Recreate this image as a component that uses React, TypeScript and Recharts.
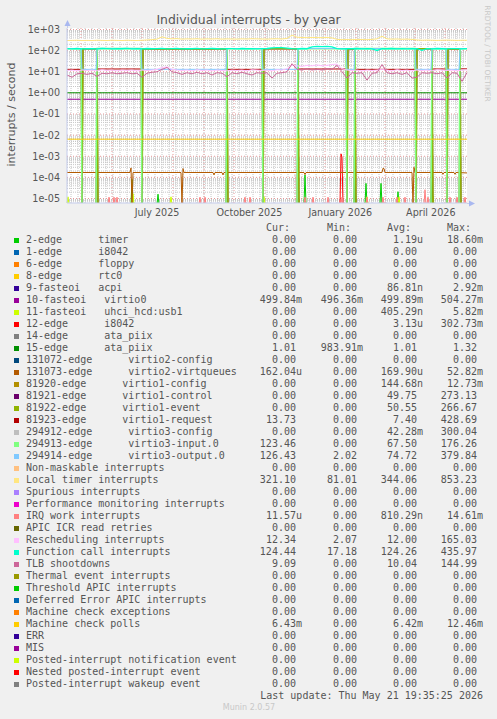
import React from "react";
import { LineChart, Line, XAxis, YAxis, CartesianGrid } from "recharts";

const W = 497;
const H = 719;

// log axis: a bit under 1e-05 up to a bit over 1e+03
const YMIN = Math.pow(10, -5.213);
const YMAX = Math.pow(10, 3.071);
// rrdtool draws a zero rate just under the floor of a log graph
const ZERO = Math.pow(10, -5.27);

const yTicks = [1e-5, 1e-4, 1e-3, 1e-2, 1e-1, 1, 10, 100, 1000];
const xLabelDays = [90, 182.5, 273.3, 363.8];
const xLabels = ["July 2025", "October 2025", "January 2026", "April 2026"];
const monthDays = [14, 45, 75, 106, 137, 167, 198, 228, 258, 289, 318, 348, 378];

// 5-day samples over the 400 day window
const days = [
  0, 5, 10, 15, 20, 25, 30, 35, 40, 45, 50, 55, 60, 65, 70, 75, 80, 85, 90, 95,
  100, 105, 110, 115, 120, 125, 130, 135, 140, 145, 150, 155, 160, 165, 170, 175, 180, 185, 190, 195,
  200, 205, 210, 215, 220, 225, 230, 235, 240, 245, 250, 255, 260, 265, 270, 275, 280, 285, 290, 295,
  300, 305, 310, 315, 320, 325, 330, 335, 340, 345, 350, 355, 360, 365, 370, 375, 380, 385, 390, 395,
  400,
];
const localTimer = [
  300, 305, 310, 300, 305, 300, 310, 305, 300, 310,
  305, 300, 310, 305, 300, 310, 320, 330, 350, 450,
  380, 360, 370, 350, 360, 355, 365, 350, 360, 355,
  365, 350, 360, 355, 350, 360, 355, 365, 360, 355,
  350, 360, 365, 355, 380, 540, 430, 420, 410, 420,
  415, 410, 420, 400, 340, 330, 335, 330, 340, 335,
  330, 340, 360, 480, 360, 350, 355, 345, 350, 340,
  320, 310, 315, 310, 305, 310, 315, 310, 305, 310,
  310,
];
const funcCall = [
  124, 122, 126, 120, 125, 123, 121, 126, 124, 122,
  125, 123, 127, 121, 124, 122, 126, 123, 125, 128,
  122, 124, 126, 121, 125, 123, 127, 122, 124, 126,
  123, 121, 125, 124, 122, 126, 123, 125, 121, 124,
  126, 135, 140, 138, 132, 124, 122, 126, 123, 150,
  158, 155, 160, 152, 124, 122, 125, 123, 126, 121,
  124, 122, 102, 125, 123, 126, 122, 124, 121, 125,
  123, 104, 125, 122, 126, 123, 121, 125, 124, 122,
  124,
];
const tlb = [
  7, 5.5, 8, 8.5, 7.5, 8.5, 6, 8.5, 8, 9,
  8, 8.5, 9, 8, 8.5, 5.5, 8.5, 9.5, 10, 13,
  16, 10, 9, 7.5, 9, 8, 9.5, 8, 9, 7,
  9, 8.5, 5.8, 9, 8, 9.5, 8, 7, 9, 8.5,
  9, 5, 8.5, 9, 10, 24, 13, 12, 14, 12,
  13, 12, 14, 13, 20, 10, 5, 9, 8.5, 9,
  4, 8.5, 9, 22, 9, 8, 9, 7.5, 9, 5,
  5.5, 9, 8.5, 9, 8, 9, 5, 9, 8.5, 3.5,
  9,
];
const resched = [
  11.5, 12, 11, 12, 11.5, 12, 11, 12.5, 11.5, 12,
  11, 12, 11.5, 12, 11, 12, 11.5, 12, 13, 16,
  17, 13, 12, 11.5, 12, 11, 12.5, 11.5, 12, 11,
  12, 11.5, 11, 12, 11.5, 12, 11, 12.5, 12, 11.5,
  12, 11, 12.5, 12, 14, 20, 19, 18, 20, 19,
  21, 19, 20, 22, 23, 14, 12, 11.5, 12, 11,
  12, 11.5, 12, 13, 12, 11, 12.5, 11.5, 12, 11,
  12, 11.5, 12, 11, 12.5, 12, 11.5, 12, 11, 12,
  12.3,
];

// the virtio devices flip behaviour at each restart of the guest
const segStart = [0, 15, 30, 75, 160, 196, 231, 280, 288, 349, 365, 380, 393];
const outputSeg = [126, 13, 127, 13, 126, 13, 125, 13, 126, 13, 127, 13, 126];
const inputSeg = [123, 0, 124, 0, 123, 0, 122, 0, 124, 0, 123, 0, 123];
const eventSeg = [0, 122, 0, 121, 0, 122, 0, 121, 0, 122, 0, 121, 0];
const controlSeg = [0, 120, 0, 119, 0, 120, 0, 119, 0, 120, 0, 119, 0];
const requestSeg = [13, 0, 13.5, 0, 13, 0, 13.5, 0, 13, 0, 13.5, 0, 13.7];

// virtio2-virtqueues: flat with a few blips
const vq2Days = [0, 63, 64, 65, 66, 114, 115, 116, 117, 146, 147, 148, 155, 156, 157, 237, 238, 239,
  315, 316, 317, 318, 345, 346, 347, 348, 375, 376, 377, 387, 388, 389, 400];
const vq2Vals = [1.7e-4, 1.7e-4, 2.8e-4, 0, 1.7e-4, 1.7e-4, 0, 2.6e-4, 1.7e-4, 1.7e-4, 1.3e-4, 1.7e-4,
  1.7e-4, 1.3e-4, 1.7e-4, 1.7e-4, 1.35e-4, 1.7e-4, 1.7e-4, 2.7e-4, 2.6e-4, 1.7e-4, 1.7e-4, 0, 3e-4,
  1.7e-4, 1.7e-4, 1.4e-4, 1.7e-4, 1.7e-4, 1.4e-4, 1.7e-4, 1.62e-4];

// rare interrupts: spikes off an otherwise zero rate
const timerSpikeDays = [65, 91, 238, 288, 299, 314, 331, 365];
const timerSpikeVals = [8e-5, 1.6e-5, 1.3e-4, 8e-5, 5.2e-5, 5.2e-5, 2.1e-5, 6e-5];
const usbSpikeDays = [1, 66, 104, 197, 300, 332, 366];
const usbSpikeVals = [1.2e-5, 1.7e-5, 1.2e-5, 1.2e-5, 1.2e-5, 1.2e-5, 1.3e-5];
const i8042SpikeDays = [274, 275];
const i8042SpikeVals = [1.3e-3, 9e-4];
const irqSpikeDays = [42, 47, 50, 133, 138, 178, 183, 238, 246, 261, 275, 300, 316, 330, 338, 358, 361, 383, 390, 398];
const irqSpikeVals = [1.16e-5, 1.16e-5, 1.16e-5, 1.16e-5, 1.16e-5, 1.16e-5, 1.16e-5, 1.16e-5, 1.16e-5,
  1.16e-5, 1.16e-5, 1.16e-5, 1.16e-5, 1.16e-5, 1.16e-5, 2.6e-5, 1.16e-5, 1.16e-5, 1.16e-5, 1.16e-5];

const mcPolls = 6.43e-3;
const virtio0 = 0.4999;
const ataPiix = 1.01;

// legend
const legendNames = [
  "2-edge      timer", "1-edge      i8042", "6-edge      floppy", "8-edge      rtc0",
  "9-fasteoi   acpi", "10-fasteoi   virtio0", "11-fasteoi   uhci_hcd:usb1", "12-edge      i8042",
  "14-edge      ata_piix", "15-edge      ata_piix", "131072-edge      virtio2-config",
  "131073-edge      virtio2-virtqueues", "81920-edge      virtio1-config", "81921-edge      virtio1-control",
  "81922-edge      virtio1-event", "81923-edge      virtio1-request", "294912-edge      virtio3-config",
  "294913-edge      virtio3-input.0", "294914-edge      virtio3-output.0", "Non-maskable interrupts",
  "Local timer interrupts", "Spurious interrupts", "Performance monitoring interrupts", "IRQ work interrupts",
  "APIC ICR read retries", "Rescheduling interrupts", "Function call interrupts", "TLB shootdowns",
  "Thermal event interrupts", "Threshold APIC interrupts", "Deferred Error APIC interrupts",
  "Machine check exceptions", "Machine check polls", "ERR", "MIS", "Posted-interrupt notification event",
  "Nested posted-interrupt event", "Posted-interrupt wakeup event",
];
const legendColors = [
  "#00CC00", "#0066B3", "#FF8000", "#FFCC00", "#330099", "#990099", "#CCFF00", "#FF0000", "#808080",
  "#008F00", "#00487D", "#B35A00", "#B38F00", "#6B006B", "#8FB300", "#B30000", "#BEBEBE", "#80FF80",
  "#80C9FF", "#FFC080", "#FFE680", "#AA80FF", "#EE00CC", "#FF8080", "#666600", "#FFBFFF", "#00FFCC",
  "#CC6699", "#999900", "#00CC00", "#0066B3", "#FF8000", "#FFCC00", "#330099", "#990099", "#CCFF00",
  "#FF0000", "#808080",
];
const curVals = ["0.00", "0.00", "0.00", "0.00", "0.00", "499.84m", "0.00", "0.00", "0.00", "1.01", "0.00",
  "162.04u", "0.00", "0.00", "0.00", "13.73", "0.00", "123.46", "126.43", "0.00", "321.10", "0.00", "0.00",
  "11.57u", "0.00", "12.34", "124.44", "9.09", "0.00", "0.00", "0.00", "0.00", "6.43m", "0.00", "0.00",
  "0.00", "0.00", "0.00"];
const minVals = ["0.00", "0.00", "0.00", "0.00", "0.00", "496.36m", "0.00", "0.00", "0.00", "983.91m", "0.00",
  "0.00", "0.00", "0.00", "0.00", "0.00", "0.00", "0.00", "2.02", "0.00", "81.01", "0.00", "0.00",
  "0.00", "0.00", "2.07", "17.18", "0.00", "0.00", "0.00", "0.00", "0.00", "0.00", "0.00", "0.00",
  "0.00", "0.00", "0.00"];
const avgVals = ["1.19u", "0.00", "0.00", "0.00", "86.81n", "499.89m", "405.29n", "3.13u", "0.00", "1.01", "0.00",
  "169.90u", "144.68n", "49.75", "50.55", "7.40", "42.28m", "67.50", "74.72", "0.00", "344.06", "0.00", "0.00",
  "810.29n", "0.00", "12.00", "124.26", "10.04", "0.00", "0.00", "0.00", "0.00", "6.42m", "0.00", "0.00",
  "0.00", "0.00", "0.00"];
const maxVals = ["18.60m", "0.00", "0.00", "0.00", "2.92m", "504.27m", "5.82m", "302.73m", "0.00", "1.32", "0.00",
  "52.82m", "12.73m", "273.13", "266.67", "428.69", "300.04", "176.26", "379.84", "0.00", "853.23", "0.00", "0.00",
  "14.61m", "0.00", "165.03", "435.97", "144.99", "0.00", "0.00", "0.00", "0.00", "12.46m", "0.00", "0.00",
  "0.00", "0.00", "0.00"];

// ---- build the per-day table that recharts draws from ----
type Row = { d: number; [k: string]: number | undefined };
const rows: Row[] = [];
for (let d = 0; d <= 400; d++) rows.push({ d });

const put = (key: string, d: number, v: number) => {
  if (d < 0 || d > 400) return;
  rows[d][key] = v === 0 ? ZERO : v;
};
const putSampled = (key: string, vals: number[]) => days.forEach((d, i) => put(key, d, vals[i]));
const putSegments = (key: string, vals: number[], shift: number) => {
  vals.forEach((v, i) => {
    const s = segStart[i] + shift;
    const e = (i + 1 < segStart.length ? segStart[i + 1] - 1 : 400) + shift;
    put(key, s, v);
    put(key, Math.min(e, 400), v);
  });
};
const putSpikes = (key: string, ds: number[], vs: number[]) => {
  ds.forEach((d, i) => put(key, d, vs[i]));
  ds.forEach((d) => {
    if (d > 0 && rows[d - 1][key] === undefined) put(key, d - 1, 0);
    if (d < 400 && rows[d + 1][key] === undefined) put(key, d + 1, 0);
  });
  if (rows[0][key] === undefined) put(key, 0, 0);
  if (rows[400][key] === undefined) put(key, 400, 0);
};

putSpikes("timer", timerSpikeDays, timerSpikeVals);
put("virtio0", 0, virtio0);
put("virtio0", 400, virtio0);
putSpikes("usb", usbSpikeDays, usbSpikeVals);
putSpikes("i8042", i8042SpikeDays, i8042SpikeVals);
put("ata", 0, ataPiix);
put("ata", 400, ataPiix);
vq2Days.forEach((d, i) => put("vq2", d, vq2Vals[i]));
putSegments("control", controlSeg, 1);
putSegments("event", eventSeg, 1);
putSegments("request", requestSeg, 0);
putSegments("input", inputSeg, 0);
putSegments("output", outputSeg, 0);
putSampled("loc", localTimer);
putSpikes("irq", irqSpikeDays, irqSpikeVals);
putSampled("resched", resched);
putSampled("fcall", funcCall);
putSampled("tlb", tlb);
put("mcp", 0, mcPolls);
put("mcp", 400, mcPolls);

// drawn in legend order, so later ones sit on top
const series = [
  { key: "timer", color: "#00CC00", w: 1 },
  { key: "virtio0", color: "#990099", w: 1 },
  { key: "usb", color: "#CCFF00", w: 1 },
  { key: "i8042", color: "#FF0000", w: 1 },
  { key: "ata", color: "#008F00", w: 1 },
  { key: "vq2", color: "#B35A00", w: 1 },
  { key: "control", color: "#6B006B", w: 1 },
  { key: "event", color: "#8FB300", w: 1.6 },
  { key: "request", color: "#B30000", w: 1 },
  { key: "input", color: "#80FF80", w: 1.6 },
  { key: "output", color: "#80C9FF", w: 1 },
  { key: "loc", color: "#FFE680", w: 1 },
  { key: "irq", color: "#FF8080", w: 1 },
  { key: "resched", color: "#FFBFFF", w: 1 },
  { key: "fcall", color: "#00FFCC", w: 1.3 },
  { key: "tlb", color: "#CC6699", w: 1 },
  { key: "mcp", color: "#FFCC00", w: 1 },
];

// grid positions
const weekDays: number[] = [];
for (let d = 4; d <= 400; d += 7) weekDays.push(d);
const minorY: number[] = [];
for (let e = -6; e <= 3; e++) {
  for (let m = 2; m <= 9; m++) {
    const v = m * Math.pow(10, e);
    if (v > YMIN && v < YMAX) minorY.push(v);
  }
}

const fmtExp = (v: number) => {
  const e = Math.round(Math.log10(v));
  return `1e${e < 0 ? "-" : "+"}${String(Math.abs(e)).padStart(2, "0")}`;
};
const padVal = (s: string) => (/[0-9]$/.test(s) ? s + " " : s);

const tickStyle = { fill: "#555", fontSize: 9.6, fontFamily: "DejaVu Sans" };
const mono: React.CSSProperties = {
  position: "absolute",
  fontFamily: "'DejaVu Sans Mono', monospace",
  fontSize: 10,
  lineHeight: "12px",
  whiteSpace: "pre",
  color: "#555",
};
const colRight = [302, 363, 423, 483];
const headers = ["Cur:  ", "Min:  ", "Avg:  ", "Max:  "];
const AXIS = "#c4ccec";
const ARROW = "#a9b8f0";

export default function App() {
  return (
    <div
      style={{
        position: "absolute",
        left: 0,
        top: 0,
        width: W,
        height: H,
        background: "#f0f0f0",
        overflow: "hidden",
      }}
    >
      <LineChart width={W} height={225} data={rows} margin={{ top: 28, right: 30, bottom: 0, left: 0 }}>
        <CartesianGrid
          fill="#ffffff"
          stroke="#c6c6c6"
          strokeDasharray="1 1"
          horizontalValues={minorY}
          verticalValues={weekDays}
        />
        <CartesianGrid
          stroke="#e79a9a"
          strokeDasharray="1 2"
          horizontalValues={yTicks}
          verticalValues={monthDays}
        />
        <XAxis
          dataKey="d"
          type="number"
          domain={[0, 400]}
          ticks={xLabelDays}
          interval={0}
          height={22}
          tickLine={false}
          tickSize={0}
          tickMargin={6}
          tick={tickStyle}
          axisLine={{ stroke: AXIS }}
          tickFormatter={(v: number) => xLabels[xLabelDays.indexOf(v)] ?? ""}
        />
        <YAxis
          type="number"
          scale="log"
          domain={[YMIN, YMAX]}
          allowDataOverflow
          ticks={yTicks}
          interval={0}
          width={67}
          tickLine={false}
          tickSize={0}
          tickMargin={7}
          tick={tickStyle}
          axisLine={{ stroke: AXIS }}
          tickFormatter={fmtExp}
        />
        {series.map((s) => (
          <Line
            key={s.key}
            type="linear"
            dataKey={s.key}
            stroke={s.color}
            strokeWidth={s.w}
            dot={false}
            activeDot={false}
            connectNulls
            isAnimationActive={false}
          />
        ))}
      </LineChart>

      <svg
        width={W}
        height={225}
        style={{ position: "absolute", left: 0, top: 0, pointerEvents: "none" }}
      >
        <text x={248.5} y={23.8} textAnchor="middle" fontFamily="DejaVu Sans" fontSize={12.4} fill="#555">
          Individual interrupts - by year
        </text>
        <text
          x={15}
          y={114.5}
          textAnchor="middle"
          fontFamily="DejaVu Sans"
          fontSize={11}
          fill="#555"
          transform="rotate(-90 15 114.5)"
        >
          interrupts / second
        </text>
        <text
          x={485}
          y={53.5}
          textAnchor="middle"
          fontFamily="DejaVu Sans"
          fontSize={7.5}
          fill="#c8c8c8"
          transform="rotate(90 485 53.5)"
        >
          RRDTOOL / TOBI OETIKER
        </text>
        <line x1={67.5} y1={28} x2={67.5} y2={24} stroke={AXIS} />
        <polygon points="64.5,26 70.5,26 67.5,20" fill={ARROW} />
        <line x1={467} y1={203.5} x2={470} y2={203.5} stroke={AXIS} />
        <polygon points="469,200.5 469,206.5 475,203.5" fill={ARROW} />
      </svg>

      {headers.map((h, j) => (
        <div key={h} style={{ ...mono, top: 222, right: W - colRight[j], textAlign: "right" }}>
          {h}
        </div>
      ))}
      {legendNames.map((name, i) => {
        const cy = 240 + 12 * i;
        return (
          <React.Fragment key={name + i}>
            <div
              style={{
                position: "absolute",
                left: 14,
                top: cy - 2.5,
                width: 5,
                height: 5,
                background: legendColors[i],
              }}
            />
            <div style={{ ...mono, left: 26, top: cy - 6 }}>{name}</div>
            {[curVals[i], minVals[i], avgVals[i], maxVals[i]].map((v, j) => (
              <div key={j} style={{ ...mono, top: cy - 6, right: W - colRight[j], textAlign: "right" }}>
                {padVal(v)}
              </div>
            ))}
          </React.Fragment>
        );
      })}
      <div style={{ ...mono, top: 690, right: W - 483, textAlign: "right" }}>
        Last update: Thu May 21 19:35:25 2026
      </div>
      <div
        style={{
          position: "absolute",
          top: 702,
          left: 0,
          width: 498,
          textAlign: "center",
          fontFamily: "DejaVu Sans",
          fontSize: 8,
          lineHeight: "12px",
          color: "#c8c8c8",
        }}
      >
        Munin 2.0.57
      </div>
    </div>
  );
}
